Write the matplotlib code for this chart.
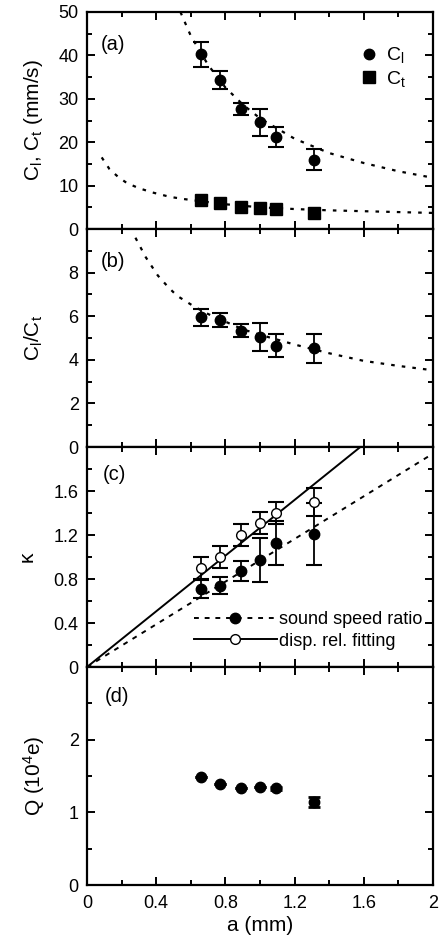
import numpy as np
import matplotlib.pyplot as plt
from matplotlib.ticker import MultipleLocator, FixedLocator
from matplotlib.lines import Line2D

plt.rcParams['font.family'] = ['Liberation Sans', 'DejaVu Sans']
plt.rcParams['mathtext.default'] = 'regular'

# ---- data ----
a_mm = [0.66, 0.77, 0.89, 1.00, 1.09, 1.31]

# (a) sound speeds
c_l = [40.3, 34.3, 27.6, 24.6, 21.2, 16.0]
c_l_err = [2.9, 2.0, 1.4, 3.1, 2.3, 2.4]
c_t = [6.6, 6.0, 5.1, 4.9, 4.6, 3.6]

# fitted curves
a_fit_l = [0.54, 0.6, 0.7, 0.8, 0.9, 1.0, 1.2, 1.4, 1.6, 1.8, 2.0]
c_l_fit = [50.0, 44.5, 37.8, 32.6, 28.7, 25.5, 20.8, 17.5, 15.2, 13.3, 11.8]
a_fit_t = [0.085, 0.13, 0.18, 0.23, 0.3, 0.38, 0.48, 0.56, 0.66, 0.8,
           1.0, 1.2, 1.4, 1.6, 1.8, 2.0]
c_t_fit = [16.5, 13.8, 12.0, 10.6, 9.4, 8.4, 7.4, 6.9, 6.4, 5.7,
           5.0, 4.6, 4.3, 4.1, 3.9, 3.7]

# (b) ratio
ratio = [5.95, 5.83, 5.34, 5.05, 4.65, 4.52]
ratio_err = [0.40, 0.33, 0.28, 0.64, 0.53, 0.68]
a_fit_r = [0.28, 0.34, 0.41, 0.47, 0.52, 0.62, 0.7, 0.8, 0.9, 1.0,
           1.2, 1.4, 1.6, 1.8, 2.0]
ratio_fit = [9.6, 8.7, 7.86, 7.33, 6.94, 6.44, 6.1, 5.75, 5.4, 5.15,
             4.7, 4.3, 3.95, 3.72, 3.52]

# (c) kappa
kappa_ssr = [0.71, 0.74, 0.87, 0.97, 1.13, 1.21]
kappa_ssr_err = [0.08, 0.08, 0.09, 0.20, 0.20, 0.28]
kappa_drf = [0.90, 1.00, 1.20, 1.31, 1.40, 1.50]
kappa_drf_err = [0.10, 0.10, 0.10, 0.10, 0.10, 0.13]
a_line_ssr = [0.0, 2.0]
kappa_line_ssr = [0.0, 1.94]
a_line_drf = [0.0, 1.58]
kappa_line_drf = [0.0, 2.0]

# (d) charge
q_val = [1.48, 1.39, 1.33, 1.35, 1.33, 1.14]
q_err = [0.0, 0.0, 0.0, 0.0, 0.02, 0.07]

# ---- figure ----
fig = plt.figure(figsize=(4.45, 9.39), dpi=100)
left, width = 87 / 445, 346 / 445
edges = [12, 229, 447, 667, 885]
axes = []
for i in range(4):
    top, bot = edges[i], edges[i + 1]
    ax = fig.add_axes([left, 1 - bot / 939, width, (bot - top) / 939])
    axes.append(ax)
ax_a, ax_b, ax_c, ax_d = axes

fs = 13
dot = (0, (1.6, 3.2))
dash = (0, (2.5, 3))
eb = dict(fmt='o', color='black', ms=7.5, capsize=6, capthick=1.5, elinewidth=1.3)

for ax in axes:
    ax.set_xlim(0, 2)
    ax.xaxis.set_major_locator(MultipleLocator(0.4))
    ax.xaxis.set_minor_locator(MultipleLocator(0.2))
    ax.tick_params(which='both', direction='in', top=True, right=True,
                   labelsize=fs, width=1.4)
    ax.tick_params(which='major', length=6, pad=6)
    ax.tick_params(which='minor', length=3.5)
    for s in ax.spines.values():
        s.set_linewidth(1.6)
    if ax is not ax_d:
        ax.tick_params(labelbottom=False)

# (a)
ax_a.plot(a_fit_l, c_l_fit, color='black', ls=dot, lw=1.6)
ax_a.plot(a_fit_t, c_t_fit, color='black', ls=dot, lw=1.6)
ax_a.errorbar(a_mm, c_l, yerr=c_l_err, **eb)
ax_a.plot(a_mm, c_t, 's', color='black', ms=8)
ax_a.set_ylim(0, 50)
ax_a.yaxis.set_major_locator(MultipleLocator(10))
ax_a.yaxis.set_minor_locator(MultipleLocator(5))
ax_a.set_ylabel('C$_l$, C$_t$ (mm/s)', fontsize=15)
ax_a.yaxis.set_label_coords(-0.12, 0.5)
ax_a.text(0.04, 0.85, '(a)', transform=ax_a.transAxes, fontsize=14.5, va='center')
handles_a = [Line2D([], [], ls='none', marker='o', color='black', ms=7.5),
             Line2D([], [], ls='none', marker='s', color='black', ms=8)]
ax_a.legend(handles_a, ['C$_l$', 'C$_t$'], loc='upper right',
            bbox_to_anchor=(0.955, 0.9), frameon=False, fontsize=14,
            handletextpad=0.35, labelspacing=0.2, borderaxespad=0.2,
            handlelength=1.0)

# (b)
ax_b.plot(a_fit_r, ratio_fit, color='black', ls=dot, lw=1.6)
ax_b.errorbar(a_mm, ratio, yerr=ratio_err, **eb)
ax_b.set_ylim(0, 10)
ax_b.yaxis.set_major_locator(FixedLocator([0, 2, 4, 6, 8]))
ax_b.yaxis.set_minor_locator(MultipleLocator(1))
ax_b.set_ylabel('C$_l$/C$_t$', fontsize=15)
ax_b.yaxis.set_label_coords(-0.12, 0.5)
ax_b.text(0.04, 0.85, '(b)', transform=ax_b.transAxes, fontsize=14.5, va='center')

# (c)
ax_c.plot(a_line_drf, kappa_line_drf, color='black', lw=1.4)
ax_c.plot(a_line_ssr, kappa_line_ssr, color='black', ls=dash, lw=1.4)
ax_c.errorbar(a_mm, kappa_drf, yerr=kappa_drf_err, fmt='o', color='black',
              mfc='white', ms=7, capsize=6, capthick=1.5, elinewidth=1.3)
ax_c.errorbar(a_mm, kappa_ssr, yerr=kappa_ssr_err, **eb)
handles_c = [Line2D([], [], color='black', ls=dash, lw=1.4, marker='o', ms=7.5),
             Line2D([], [], color='black', lw=1.4, marker='o', ms=7, mfc='white')]
ax_c.set_ylim(0, 2.0)
ax_c.yaxis.set_major_locator(FixedLocator([0, 0.4, 0.8, 1.2, 1.6]))
ax_c.yaxis.set_minor_locator(MultipleLocator(0.2))
ax_c.set_yticklabels(['0', '0.4', '0.8', '1.2', '1.6'])
ax_c.set_ylabel('κ', fontsize=15)
ax_c.yaxis.set_label_coords(-0.145, 0.5)
ax_c.text(0.045, 0.875, '(c)', transform=ax_c.transAxes, fontsize=14.5, va='center')
ax_c.legend(handles_c, ['sound speed ratio', 'disp. rel. fitting'],
            loc='lower right', bbox_to_anchor=(1.0, 0.03), frameon=False,
            fontsize=fs, handlelength=4.6, handletextpad=0.1,
            labelspacing=0.25, borderaxespad=0.2)

# (d)
ax_d.errorbar(a_mm, q_val, yerr=q_err, fmt='o', color='black', ms=7.5,
              capsize=4, capthick=2, elinewidth=1.5)
ax_d.set_ylim(0, 3)
ax_d.yaxis.set_major_locator(FixedLocator([0, 1, 2]))
ax_d.yaxis.set_minor_locator(MultipleLocator(0.5))
ax_d.set_ylabel('Q (10$^4$e)', fontsize=15)
ax_d.yaxis.set_label_coords(-0.115, 0.5)
ax_d.text(0.05, 0.865, '(d)', transform=ax_d.transAxes, fontsize=14.5, va='center')
ax_d.set_xticks([0, 0.4, 0.8, 1.2, 1.6, 2.0])
ax_d.set_xticklabels(['0', '0.4', '0.8', '1.2', '1.6', '2'])
ax_d.tick_params(axis='x', pad=7)
ax_d.set_xlabel('a (mm)', fontsize=15, labelpad=3)

fig.savefig('out.png', dpi=100)
